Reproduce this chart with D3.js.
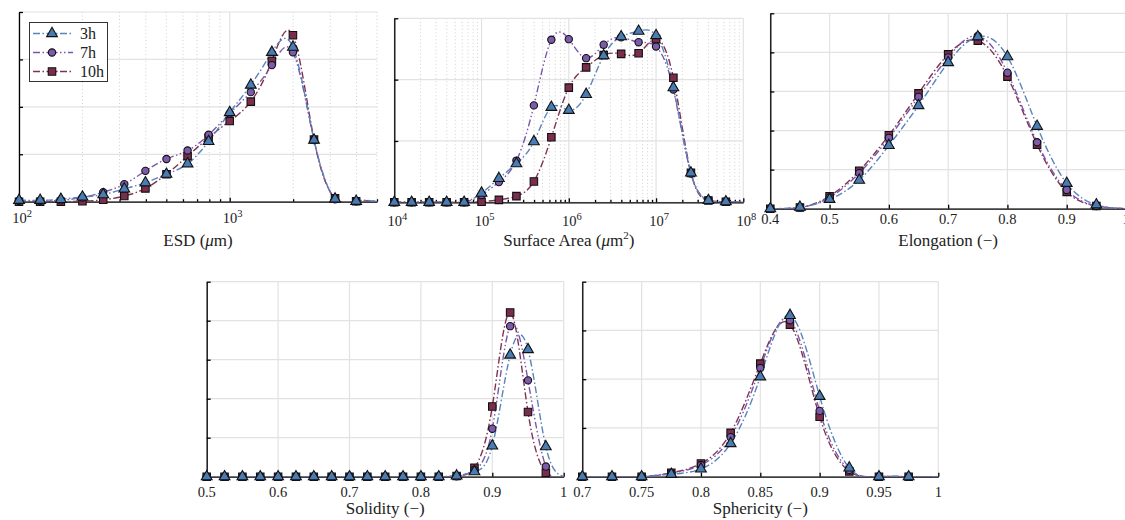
<!DOCTYPE html>
<html lang="en">
<head>
<meta charset="UTF-8">
<title>Particle size and shape distributions</title>
<script src="https://d3js.org/d3.v7.min.js"></script>
<style>
  body { margin: 0; background: #fff; }
  svg { display: block; font-family: "Liberation Serif", "DejaVu Serif", serif; }
  .grid line { stroke: #e2e2e2; stroke-width: 1.2; }
  .grid line.minor { stroke: #cfcfcf; stroke-dasharray: 1,2.5; stroke-width: 1; }
  .axis path, .axis line { stroke: #000; stroke-width: 1.3; }
  .ticklabel { font-size: 14.5px; fill: #222; text-anchor: middle; }
  .title { font-size: 17px; fill: #222; text-anchor: middle; }
  .curve { fill: none; stroke-width: 1.4; }
  .legend-text { font-size: 16px; fill: #222; }
</style>
</head>
<body>
<svg id="chart" width="1125" height="520"></svg>
<script>
// ---- data ----
const hours = ["3h", "7h", "10h"];

// ESD (um), log axis
const esdX = [100, 126, 158, 200, 251, 316, 398, 501, 631, 794, 1000, 1259, 1585, 1995, 2512, 3162, 3981];
const esd3h = [0.03, 0.03, 0.05, 0.10, 0.15, 0.27, 0.40, 0.58, 0.80, 1.27, 1.88, 2.46, 3.15, 3.26, 1.30, 0.06, 0.01];
const esd7h = [0.02, 0.02, 0.03, 0.09, 0.20, 0.37, 0.65, 0.90, 1.08, 1.41, 1.86, 2.31, 2.88, 3.15, 1.30, 0.05, 0.01];
const esd10h = [0, 0, 0, 0.01, 0.04, 0.12, 0.28, 0.58, 0.96, 1.35, 1.70, 2.11, 2.97, 3.51, 1.31, 0.07, 0.01];

// Surface area (um^2), log axis
const saX = [1e4, 1.58e4, 2.51e4, 3.98e4, 6.31e4, 1e5, 1.58e5, 2.51e5, 3.98e5, 6.31e5,
             1e6, 1.58e6, 2.51e6, 3.98e6, 6.31e6, 1e7, 1.58e7, 2.51e7, 3.98e7, 6.31e7];
const sa3h = [0, 0, 0, 0, 0, 0.15, 0.39, 0.63, 0.99, 1.55, 1.50, 1.76, 2.39, 2.70, 2.79, 2.72, 1.87, 0.48, 0.03, 0.01];
const sa7h = [0, 0, 0, 0, 0, 0.12, 0.33, 0.68, 1.58, 2.65, 2.66, 2.35, 2.57, 2.69, 2.61, 2.54, 1.84, 0.47, 0.04, 0.01];
const sa10h = [0, 0, 0, 0, 0, 0.01, 0.04, 0.10, 0.34, 1.06, 1.87, 2.20, 2.40, 2.42, 2.43, 2.66, 2.03, 0.48, 0.03, 0.01];

// Elongation (-)
const elX = [0.4, 0.45, 0.5, 0.55, 0.6, 0.65, 0.7, 0.75, 0.8, 0.85, 0.9, 0.95];
const el3h = [0, 0.04, 0.24, 0.73, 1.62, 2.64, 3.74, 4.40, 3.89, 2.11, 0.65, 0.10];
const el7h = [0, 0.03, 0.29, 0.91, 1.81, 2.86, 3.87, 4.42, 3.48, 1.70, 0.48, 0.07];
const el10h = [0, 0.03, 0.32, 0.97, 1.88, 2.95, 3.95, 4.30, 3.38, 1.64, 0.43, 0.07];

// Solidity (-)
const soX = [0.5, 0.525, 0.55, 0.575, 0.6, 0.625, 0.65, 0.675, 0.7, 0.725,
             0.75, 0.775, 0.8, 0.825, 0.85, 0.875, 0.9, 0.925, 0.95, 0.975];
const so3h = [0, 0, 0, 0, 0, 0, 0, 0, 0, 0, 0, 0, 0, 0, 0.02, 0.13, 0.79, 3.12, 3.26, 0.77];
const so7h = [0, 0, 0, 0, 0, 0, 0, 0, 0, 0, 0, 0, 0, 0, 0.01, 0.17, 1.23, 3.86, 2.47, 0.26];
const so10h = [0, 0, 0, 0, 0, 0, 0, 0, 0, 0, 0, 0, 0, 0, 0.02, 0.23, 1.80, 4.21, 1.66, 0.10];

// Sphericity (-)
const spX = [0.7, 0.725, 0.75, 0.775, 0.8, 0.825, 0.85, 0.875, 0.9, 0.925, 0.95, 0.975];
const sp3h = [0, 0, 0, 0.05, 0.16, 0.68, 2.05, 3.31, 1.65, 0.18, 0, 0];
const sp7h = [0, 0, 0, 0.07, 0.24, 0.81, 2.23, 3.21, 1.35, 0.14, 0, 0];
const sp10h = [0, 0, 0, 0.08, 0.27, 0.90, 2.32, 3.12, 1.23, 0.11, 0, 0];

// tick labels of the linear panels
const elTicks = [0.4, 0.5, 0.6, 0.7, 0.8, 0.9, 1];
const soTicks = [0.5, 0.6, 0.7, 0.8, 0.9, 1];
const spTicks = [0.7, 0.75, 0.8, 0.85, 0.9, 0.95, 1];

// ---- styles ----
const lineColor = {"3h": "#5a84bb", "7h": "#7a58a9", "10h": "#7f3252"};
const fillColor = {"3h": "#4a7cb4", "7h": "#7c5aac", "10h": "#7c2d4e"};
const dash = {"3h": "7,2.5,1.5,2.5", "7h": "7,2.5,1.5,2.5,1.5,2.5", "10h": "7,2.5,1.5,2.5"};
const symbol = {
  "3h": d3.symbol().type(d3.symbolTriangle).size(50),
  "7h": d3.symbol().type(d3.symbolCircle).size(42),
  "10h": d3.symbol().type(d3.symbolSquare).size(56)
};

// panel layout
const panels = [
  {x: esdX, ys: [esd3h, esd7h, esd10h], log: true, domain: [100, 5000], yMax: 4,
   left: 19, right: 377, top: 12, bottom: 201.7, labelDy: 21, titleY: 246, title: ["ESD (", "μ", "m)", ""]},
  {x: saX, ys: [sa3h, sa7h, sa10h], log: true, domain: [1e4, 1e8], yMax: 3,
   left: 394.3, right: 743.3, top: 18.3, bottom: 202.3, labelDy: 24, titleY: 246, title: ["Surface Area (", "μ", "m", "2", ")"]},
  {x: elX, ys: [el3h, el7h, el10h], log: false, domain: [0.4, 1], yMax: 5, ticks: elTicks,
   left: 770.3, right: 1126, top: 13.3, bottom: 208.7, labelDy: 15.5, titleY: 246, title: ["Elongation (−)"]},
  {x: soX, ys: [so3h, so7h, so10h], log: false, domain: [0.5, 1], yMax: 5, ticks: soTicks,
   left: 206.7, right: 563.7, top: 281.7, bottom: 476.7, labelDy: 20, titleY: 514, title: ["Solidity (−)"]},
  {x: spX, ys: [sp3h, sp7h, sp10h], log: false, domain: [0.7, 1], yMax: 4, ticks: spTicks,
   left: 582.3, right: 938.3, top: 281.7, bottom: 476.7, labelDy: 20, titleY: 514, title: ["Sphericity (−)"]}
];

const svg = d3.select("#chart");
const defs = svg.append("defs");

panels.forEach((p, pi) => {
  const g = svg.append("g");
  const x = (p.log ? d3.scaleLog() : d3.scaleLinear()).domain(p.domain).range([p.left, p.right]);
  const y = d3.scaleLinear().domain([0, p.yMax]).range([p.bottom, p.top]);

  // x tick positions
  let major, minor = [];
  if (p.log) {
    const all = x.ticks();
    major = all.filter(v => Math.abs(Math.log10(v) - Math.round(Math.log10(v))) < 1e-9);
    minor = all.filter(v => !major.includes(v));
  } else {
    major = p.ticks;
  }

  // grid
  const grid = g.append("g").attr("class", "grid");
  grid.selectAll("line.minor").data(minor).join("line").attr("class", "minor")
    .attr("x1", d => x(d)).attr("x2", d => x(d)).attr("y1", p.top).attr("y2", p.bottom);
  grid.selectAll("line.major").data(major).join("line").attr("class", "major")
    .attr("x1", d => x(d)).attr("x2", d => x(d)).attr("y1", p.top).attr("y2", p.bottom);
  grid.selectAll("line.h").data(y.ticks(p.yMax)).join("line").attr("class", "h")
    .attr("x1", p.left).attr("x2", p.right).attr("y1", d => y(d)).attr("y2", d => y(d));

  // axes, ticks pointing inward
  const xAxis = g.append("g").attr("class", "axis")
    .attr("transform", `translate(0,${p.bottom})`)
    .call(d3.axisBottom(x).tickValues(major.concat(minor)).tickSize(-4).tickSizeOuter(0).tickFormat(""));
  xAxis.selectAll(".tick").filter(d => minor.includes(d)).select("line").attr("y2", -2.5);
  g.append("g").attr("class", "axis")
    .attr("transform", `translate(${p.left},0)`)
    .call(d3.axisLeft(y).ticks(p.yMax).tickSize(-4).tickSizeOuter(0).tickFormat(""));

  // x tick labels
  const lab = g.append("g").selectAll("text").data(major).join("text")
    .attr("class", "ticklabel")
    .attr("x", d => x(d))
    .attr("y", p.bottom + p.labelDy);
  if (p.log) {
    lab.each(function(d) {
      const t = d3.select(this);
      t.append("tspan").text("10");
      t.append("tspan").attr("dy", -6).attr("font-size", 10.5).text(Math.round(Math.log10(d)));
    });
    lab.attr("dx", 3);
  } else {
    lab.text(d => d3.format("")(d));
  }

  // axis title
  const tt = g.append("text").attr("class", "title")
    .attr("x", (p.left + p.right) / 2).attr("y", p.titleY);
  if (p.title.length === 1) {
    tt.text(p.title[0]);
  } else {
    tt.append("tspan").text(p.title[0]);
    tt.append("tspan").attr("font-style", "italic").text(p.title[1]);
    tt.append("tspan").text(p.title[2]);
    if (p.title.length > 4) {
      tt.append("tspan").attr("dy", -7).attr("font-size", 11).text(p.title[3]);
      tt.append("tspan").attr("dy", 7).text(p.title[4]);
    }
  }

  // clip for curves
  defs.append("clipPath").attr("id", "clip" + pi).append("rect")
    .attr("x", p.left).attr("y", p.top - 20)
    .attr("width", p.right - p.left).attr("height", p.bottom - p.top + 20);

  const line = d3.line().x(d => x(d[0])).y(d => y(d[1])).curve(d3.curveNatural);
  const order = [2, 1, 0]; // 10h underneath, 3h on top

  order.forEach(i => {
    const h = hours[i];
    // curve runs through the points and settles on zero at the right edge
    const pts = p.x.map((v, k) => [v, p.ys[i][k]]).concat([[p.domain[1], 0]]);
    g.append("path").attr("class", "curve")
      .attr("clip-path", `url(#clip${pi})`)
      .attr("d", line(pts))
      .attr("stroke", lineColor[h])
      .attr("stroke-dasharray", dash[h]);
  });
  order.forEach(i => {
    const h = hours[i];
    g.append("g").selectAll("path").data(p.x.map((v, k) => [v, p.ys[i][k]])).join("path")
      .attr("transform", d => `translate(${x(d[0])},${y(d[1])})`)
      .attr("d", symbol[h])
      .attr("fill", fillColor[h])
      .attr("stroke", "#111")
      .attr("stroke-width", 1.1);
  });
});

// legend in the first panel
const lg = svg.append("g");
lg.append("rect").attr("x", 29.5).attr("y", 22.5).attr("width", 78).attr("height", 59)
  .attr("fill", "#fff").attr("stroke", "#333").attr("stroke-width", 1);
hours.forEach((h, i) => {
  const cy = 33.5 + i * 19;
  lg.append("line").attr("x1", 33).attr("x2", 73).attr("y1", cy).attr("y2", cy)
    .attr("stroke", lineColor[h]).attr("stroke-width", 1.4).attr("stroke-dasharray", dash[h]);
  lg.append("path").attr("transform", `translate(52,${cy})`).attr("d", symbol[h])
    .attr("fill", fillColor[h]).attr("stroke", "#111").attr("stroke-width", 1.1);
  lg.append("text").attr("class", "legend-text").attr("x", 80).attr("y", cy + 5).text(h);
});
</script>
</body>
</html>
